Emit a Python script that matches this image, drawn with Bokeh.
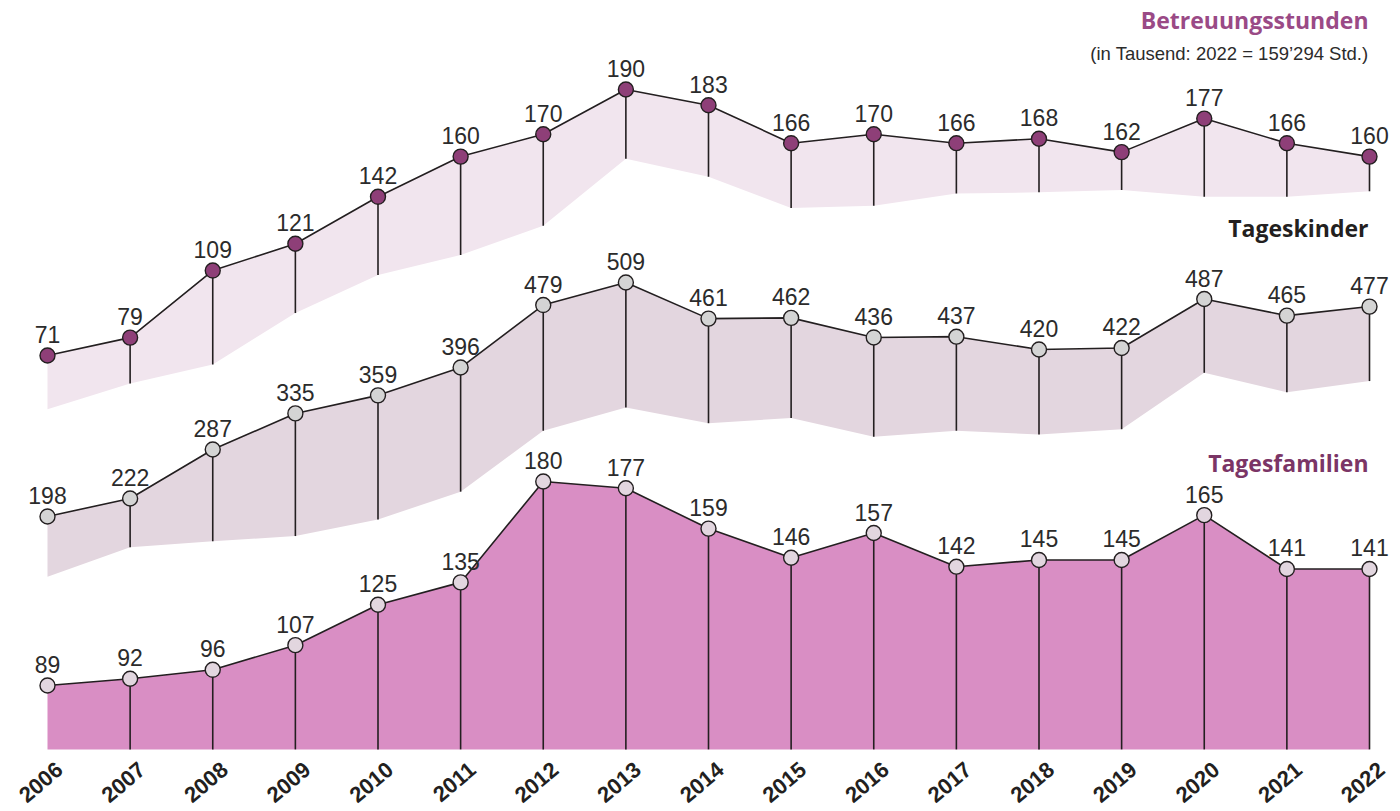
from bokeh.plotting import figure
from bokeh.models import Range1d, Label
from bokeh.core.properties import value
from bokeh.embed import file_html
from bokeh.resources import INLINE

# ---------------- data ----------------
years = list(range(2006, 2023))
year_labels = [str(y) for y in years]

betreuung = [71, 79, 109, 121, 142, 160, 170, 190, 183, 166, 170, 166, 168, 162, 177, 166, 160]
betreuung_low = [47, 58.5, 67, 90, 107, 116, 129, 159, 151, 137, 138, 143.5, 144, 145, 142, 142, 144.5]

tageskinder = [198, 222, 287, 335, 359, 396, 479, 509, 461, 462, 436, 437, 420, 422, 487, 465, 477]
tageskinder_low = [118, 157, 165, 172, 194, 231, 312, 343, 322, 329, 304, 312, 307, 314, 389, 363, 378]

tagesfamilien = [89, 92, 96, 107, 125, 135, 180, 177, 159, 146, 157, 142, 145, 145, 165, 141, 141]
tagesfamilien_base = 60.5

# ---------------- styling ----------------
W, H = 1400, 811
X0, X1 = 2005.4312, 2022.3752
NUM_FONT_NAME = "Liberation Sans"
TITLE_FONT_NAME = "Open Sans"
NUM_FONT = value(NUM_FONT_NAME)
LINE_C = "#231F20"
TXT_C = "#2B2B2B"


def px_x(px):
    return X0 + px / W * (X1 - X0)


p = figure(width=W, height=H, output_backend="svg", toolbar_location=None,
           x_range=Range1d(X0, X1), y_range=Range1d(H, 0),
           x_axis_location=None, y_axis_location=None,
           min_border=0, min_border_left=0, min_border_right=0,
           min_border_top=0, min_border_bottom=0,
           outline_line_color=None, background_fill_color="white",
           border_fill_color="white")
p.grid.visible = False

p.extra_y_ranges = {
    "b": Range1d(-133.03, 229.84),
    "k": Range1d(-194.08, 883.80),
    "f": Range1d(32.80, 394.56),
}

series = [
    ("b", betreuung, betreuung_low, "#F1E5EE", "#8E3F78"),
    ("k", tageskinder, tageskinder_low, "#E3D6DF", "#D4D4D4"),
    ("f", tagesfamilien, [tagesfamilien_base] * len(years), "#D98EC4", "#E2D6DF"),
]

for rn, vals, low, band_c, mk_c in series:
    p.varea(x=years, y1=low, y2=vals, y_range_name=rn, fill_color=band_c)
    p.segment(x0=years[1:], y0=vals[1:], x1=years[1:], y1=low[1:], y_range_name=rn,
              line_color=LINE_C, line_width=1.6)
    p.line(years, vals, y_range_name=rn, line_color=LINE_C, line_width=1.6)
    p.scatter(years, vals, y_range_name=rn, marker="circle", size=15,
              fill_color=mk_c, line_color=LINE_C, line_width=1.4)
    p.text(x=years, y=vals, text=[str(v) for v in vals], y_range_name=rn,
           text_align="center", text_baseline="alphabetic", y_offset=-21,
           text_font=NUM_FONT, text_font_size="23px", text_color=TXT_C)

# year labels
p.text(x=years, y=766, text=year_labels, angle=0.70, text_align="right",
       text_baseline="middle", x_offset=12, text_font=NUM_FONT,
       text_font_size="22px", text_font_style="bold", text_color=LINE_C)

# titles
titles = [
    ("Betreuungsstunden", 19, "#9A4A86", "23px", "bold", TITLE_FONT_NAME),
    ("(in Tausend: 2022 = 159\u2019294 Std.)", 53, TXT_C, "18.5px", "normal", NUM_FONT_NAME),
    ("Tageskinder", 227, "#231F20", "23px", "bold", TITLE_FONT_NAME),
    ("Tagesfamilien", 462, "#7B3566", "23px", "bold", TITLE_FONT_NAME),
]
for t, yb, c, fs, st, fnt in titles:
    p.add_layout(Label(x=px_x(1368), y=yb, text=t, text_align="right",
                       text_baseline="alphabetic", text_color=c, text_font_size=fs,
                       text_font_style=st, text_font=fnt))

open("out.html", "w").write(file_html(p, INLINE))
